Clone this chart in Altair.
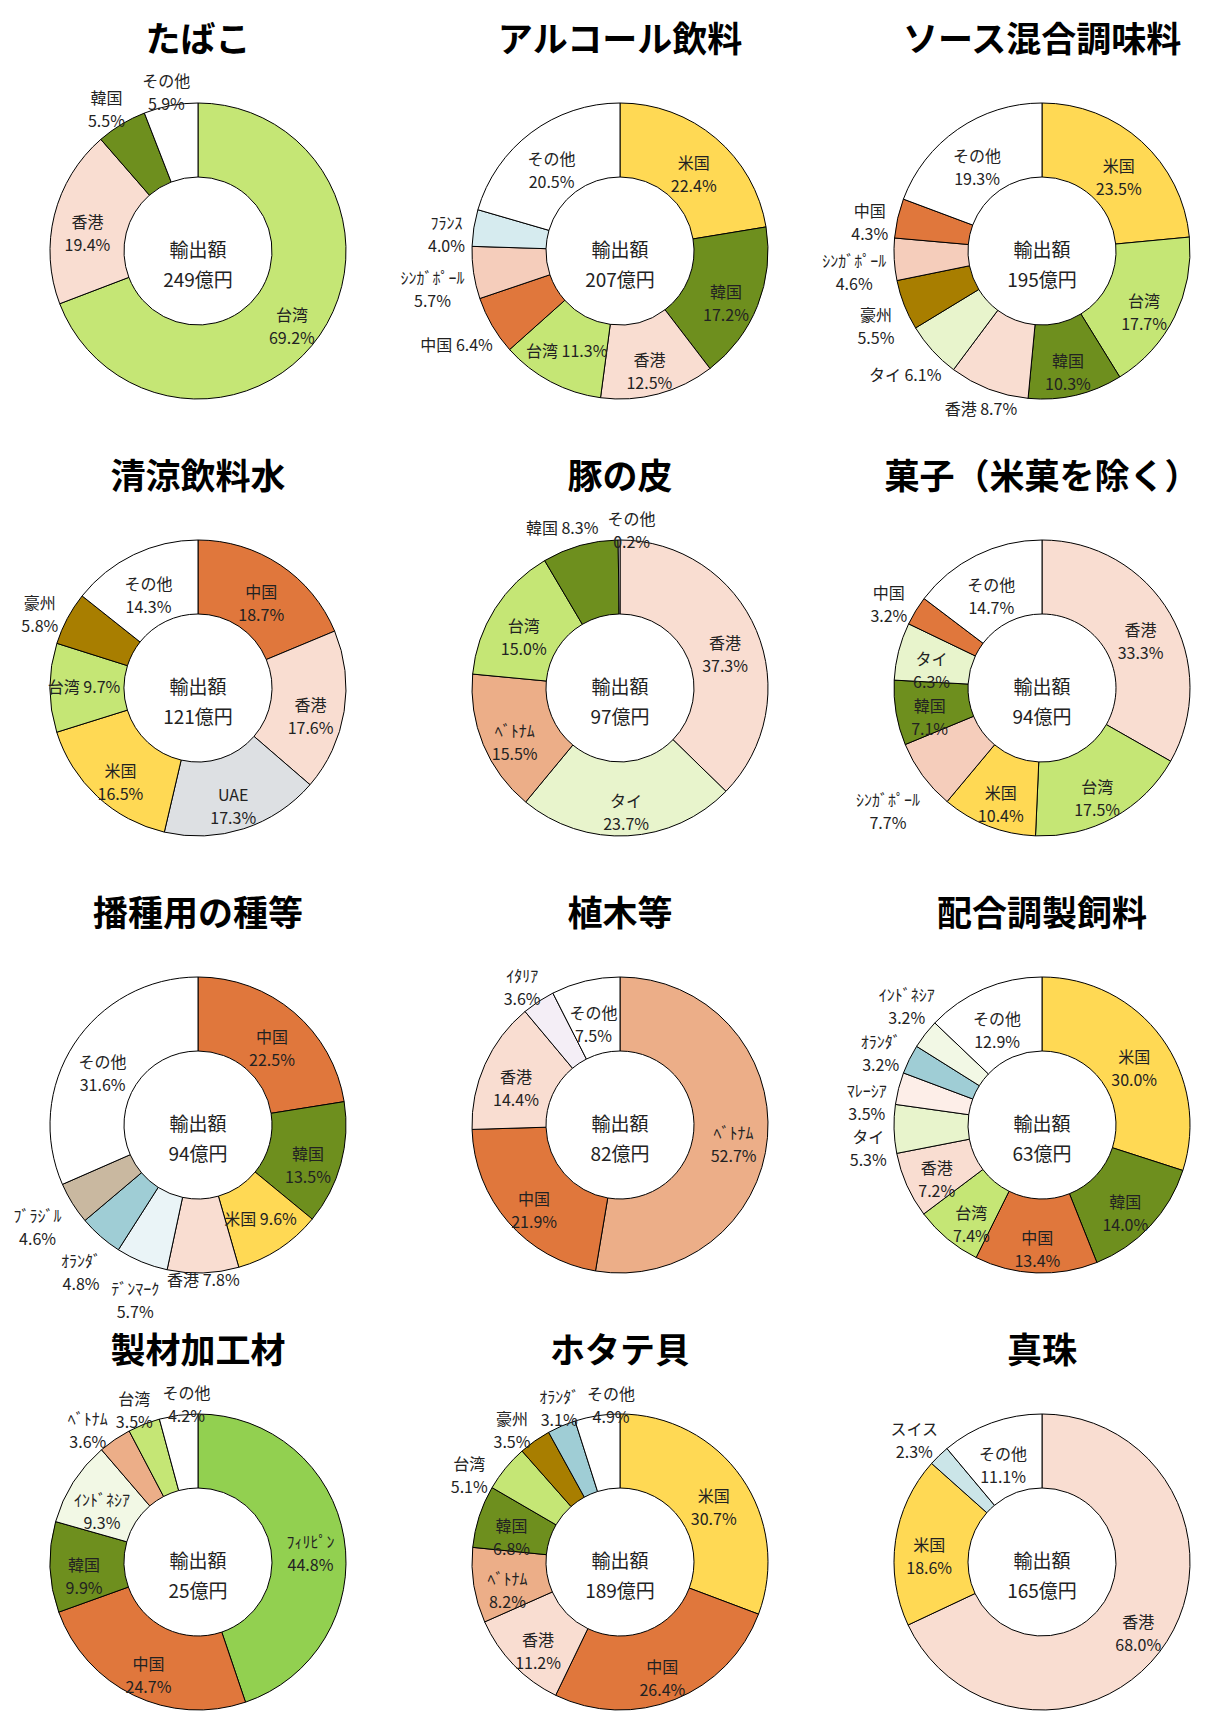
import math
import altair as alt
import pandas as pd

FONT = "Noto Sans CJK JP"

# ---------------- data ----------------
TITLES = ["たばこ", "アルコール飲料", "ソース混合調味料",
          "清涼飲料水", "豚の皮", "菓子（米菓を除く）",
          "播種用の種等", "植木等", "配合調製飼料",
          "製材加工材", "ホタテ貝", "真珠"]
TOTALS = [249, 207, 195, 121, 97, 94, 94, 82, 63, 25, 189, 165]

tabako_cats = ["台湾", "香港", "韓国", "その他"]
tabako_vals = [69.2, 19.4, 5.5, 5.9]

alcohol_cats = ["米国", "韓国", "香港", "台湾", "中国", "ｼﾝｶﾞﾎﾟｰﾙ", "ﾌﾗﾝｽ", "その他"]
alcohol_vals = [22.4, 17.2, 12.5, 11.3, 6.4, 5.7, 4.0, 20.5]

sauce_cats = ["米国", "台湾", "韓国", "香港", "タイ", "豪州", "ｼﾝｶﾞﾎﾟｰﾙ", "中国", "その他"]
sauce_vals = [23.5, 17.7, 10.3, 8.7, 6.1, 5.5, 4.6, 4.3, 19.3]

soft_cats = ["中国", "香港", "UAE", "米国", "台湾", "豪州", "その他"]
soft_vals = [18.7, 17.6, 17.3, 16.5, 9.7, 5.8, 14.3]

pork_cats = ["香港", "タイ", "ﾍﾞﾄﾅﾑ", "台湾", "韓国", "その他"]
pork_vals = [37.3, 23.7, 15.5, 15.0, 8.3, 0.2]

snack_cats = ["香港", "台湾", "米国", "ｼﾝｶﾞﾎﾟｰﾙ", "韓国", "タイ", "中国", "その他"]
snack_vals = [33.3, 17.5, 10.4, 7.7, 7.1, 6.3, 3.2, 14.7]

seed_cats = ["中国", "韓国", "米国", "香港", "ﾃﾞﾝﾏｰｸ", "ｵﾗﾝﾀﾞ", "ﾌﾞﾗｼﾞﾙ", "その他"]
seed_vals = [22.5, 13.5, 9.6, 7.8, 5.7, 4.8, 4.6, 31.6]

plant_cats = ["ﾍﾞﾄﾅﾑ", "中国", "香港", "ｲﾀﾘｱ", "その他"]
plant_vals = [52.7, 21.9, 14.4, 3.6, 7.5]

feed_cats = ["米国", "韓国", "中国", "台湾", "香港", "タイ", "ﾏﾚｰｼｱ", "ｵﾗﾝﾀﾞ", "ｲﾝﾄﾞﾈｼｱ", "その他"]
feed_vals = [30.0, 14.0, 13.4, 7.4, 7.2, 5.3, 3.5, 3.2, 3.2, 12.9]

lumber_cats = ["ﾌｨﾘﾋﾟﾝ", "中国", "韓国", "ｲﾝﾄﾞﾈｼｱ", "ﾍﾞﾄﾅﾑ", "台湾", "その他"]
lumber_vals = [44.8, 24.7, 9.9, 9.3, 3.6, 3.5, 4.2]

scallop_cats = ["米国", "中国", "香港", "ﾍﾞﾄﾅﾑ", "韓国", "台湾", "豪州", "ｵﾗﾝﾀﾞ", "その他"]
scallop_vals = [30.7, 26.4, 11.2, 8.2, 6.8, 5.1, 3.5, 3.1, 4.9]

pearl_cats = ["香港", "米国", "スイス", "その他"]
pearl_vals = [68.0, 18.6, 2.3, 11.1]

CATS = [tabako_cats, alcohol_cats, sauce_cats, soft_cats, pork_cats, snack_cats,
        seed_cats, plant_cats, feed_cats, lumber_cats, scallop_cats, pearl_cats]
VALS = [tabako_vals, alcohol_vals, sauce_vals, soft_vals, pork_vals, snack_vals,
        seed_vals, plant_vals, feed_vals, lumber_vals, scallop_vals, pearl_vals]

# labels drawn outside the ring, and labels written on one line
OUTSIDE = [["韓国", "その他"], ["中国", "ｼﾝｶﾞﾎﾟｰﾙ", "ﾌﾗﾝｽ"],
           ["香港", "タイ", "豪州", "ｼﾝｶﾞﾎﾟｰﾙ", "中国"], ["豪州"],
           ["韓国", "その他"], ["ｼﾝｶﾞﾎﾟｰﾙ", "中国"],
           ["香港", "ﾃﾞﾝﾏｰｸ", "ｵﾗﾝﾀﾞ", "ﾌﾞﾗｼﾞﾙ"], ["ｲﾀﾘｱ"],
           ["タイ", "ﾏﾚｰｼｱ", "ｵﾗﾝﾀﾞ", "ｲﾝﾄﾞﾈｼｱ"], ["ﾍﾞﾄﾅﾑ", "台湾", "その他"],
           ["台湾", "豪州", "ｵﾗﾝﾀﾞ", "その他"], ["スイス"]]
ONE_LINE = [[], ["台湾", "中国"], ["香港", "タイ"], ["台湾"], ["韓国"], [],
            ["米国", "香港"], [], [], [], [], []]

COLOR_CATS = ["台湾", "韓国", "香港", "その他", "米国", "中国", "ﾌﾗﾝｽ", "ｼﾝｶﾞﾎﾟｰﾙ",
              "豪州", "タイ", "UAE", "ﾍﾞﾄﾅﾑ", "ｵﾗﾝﾀﾞ", "ﾃﾞﾝﾏｰｸ", "ﾌﾞﾗｼﾞﾙ", "ｲﾀﾘｱ",
              "ｲﾝﾄﾞﾈｼｱ", "ﾏﾚｰｼｱ", "ﾌｨﾘﾋﾟﾝ", "スイス"]
COLOR_VALS = ["#C5E675", "#6E8F1E", "#F9DDD1", "#FFFFFF", "#FFD954", "#E0773C", "#D6EBEF", "#F5CDBB",
              "#A87E00", "#E8F4CC", "#DDE0E3", "#ECAE88", "#9FCDD5", "#EAF4F7", "#C9B8A0", "#F4EEF6",
              "#F2F8E5", "#FDEEE8", "#92D050", "#CBE5E8"]

# ---------------- layout constants ----------------
W, H = 324, 384
R_OUT, R_IN = 148, 74
R_MID = (R_OUT + R_IN) / 2 + 3
FS, LH = 16, 23


def text_w(s):
    w = 0.0
    for ch in s:
        o = ord(ch)
        if 0xFF61 <= o <= 0xFF9F:
            w += 0.5
        elif o >= 0x2E80:
            w += 1.0
        elif ch.isdigit():
            w += 0.55
        elif ch == ".":
            w += 0.27
        elif ch == "%":
            w += 0.85
        elif ch == " ":
            w += 0.25
        else:
            w += 0.65
    return w * FS


def box(label):
    lines = label.split("\n")
    return max(text_w(l) for l in lines), (len(lines) - 1) * LH + FS * 1.15


def layout(vals, labels, outside):
    total = sum(vals)
    cum = 0.0
    items = []
    for v, lab, out in zip(vals, labels, outside):
        w, h = box(lab)
        items.append({"f": (cum + v / 2) / total, "w": w, "h": h, "out": out})
        cum += v

    def pos(it):
        a = it["f"] * 2 * math.pi
        if it["out"]:
            s, c = abs(math.sin(a)), abs(math.cos(a))
            r = R_OUT + 10 * s - 3 + it["w"] / 2 * s + it["h"] / 2 * c
        else:
            r = R_MID
        return r, r * math.sin(a), -r * math.cos(a)

    groups = [[it for it in items if it["out"]], [it for it in items if not it["out"]]]
    for grp in groups:
        for _ in range(600):
            moved = False
            for i in range(len(grp)):
                for j in range(i + 1, len(grp)):
                    a, b = grp[i], grp[j]
                    _, xa, ya = pos(a)
                    _, xb, yb = pos(b)
                    if abs(xa - xb) < (a["w"] + b["w"]) / 2 + 7 and abs(ya - yb) < (a["h"] + b["h"]) / 2 + 4:
                        step = 0.002
                        if a["f"] <= b["f"]:
                            a["f"] -= step
                            b["f"] += step
                        else:
                            a["f"] += step
                            b["f"] -= step
                        moved = True
            if not moved:
                break
    return [(it["f"], pos(it)[0]) for it in items]


def panel(title, total, cats, vals, outside, oneline):
    labels = [f"{c}{' ' if c in oneline else chr(10)}{v:.1f}%" for c, v in zip(cats, vals)]
    lay = layout(vals, labels, [c in outside for c in cats])
    df = pd.DataFrame({
        "cat": cats, "value": vals, "idx": list(range(len(cats))), "label": labels,
        "frac": [f for f, _ in lay], "rad": [r for _, r in lay],
    })
    base = alt.Chart(df)
    arcs = base.mark_arc(radius=R_OUT, radius2=R_IN, stroke="black", strokeWidth=1).encode(
        theta=alt.Theta("value:Q", stack=True),
        order=alt.Order("idx:Q"),
        color=alt.Color("cat:N", scale=alt.Scale(domain=COLOR_CATS, range=COLOR_VALS), legend=None),
    )
    text = base.mark_text(font=FONT, fontSize=FS, lineHeight=LH, lineBreak="\n", color="#222222").encode(
        theta=alt.Theta("frac:Q", scale=alt.Scale(domain=[0, 1], range=[0, 2 * math.pi]), stack=None),
        radius=alt.Radius("rad:Q", scale=None),
        text="label:N",
    )
    center = alt.Chart(pd.DataFrame({"t": [f"輸出額\n{total}億円"]})).mark_text(
        font=FONT, fontSize=19, lineHeight=30, lineBreak="\n", color="#222222"
    ).encode(text="t:N")
    return alt.layer(arcs, text, center).resolve_scale(theta="independent").properties(
        width=W, height=H,
        title=alt.TitleParams(title, fontSize=35, font=FONT, fontWeight="bold", frame="group",
                              offset=0, color="black", anchor="middle"),
    )


panels = [panel(TITLES[i], TOTALS[i], CATS[i], VALS[i], OUTSIDE[i], ONE_LINE[i]) for i in range(12)]

chart = alt.concat(
    *panels, columns=3, spacing={"row": 53, "column": 98}, bounds="flush"
).resolve_scale(theta="independent").properties(
    padding={"left": 5, "top": 16, "right": 0, "bottom": 0}
).configure_view(stroke="transparent")

chart.save("out.html", embed_options={"renderer": "svg", "actions": False})
